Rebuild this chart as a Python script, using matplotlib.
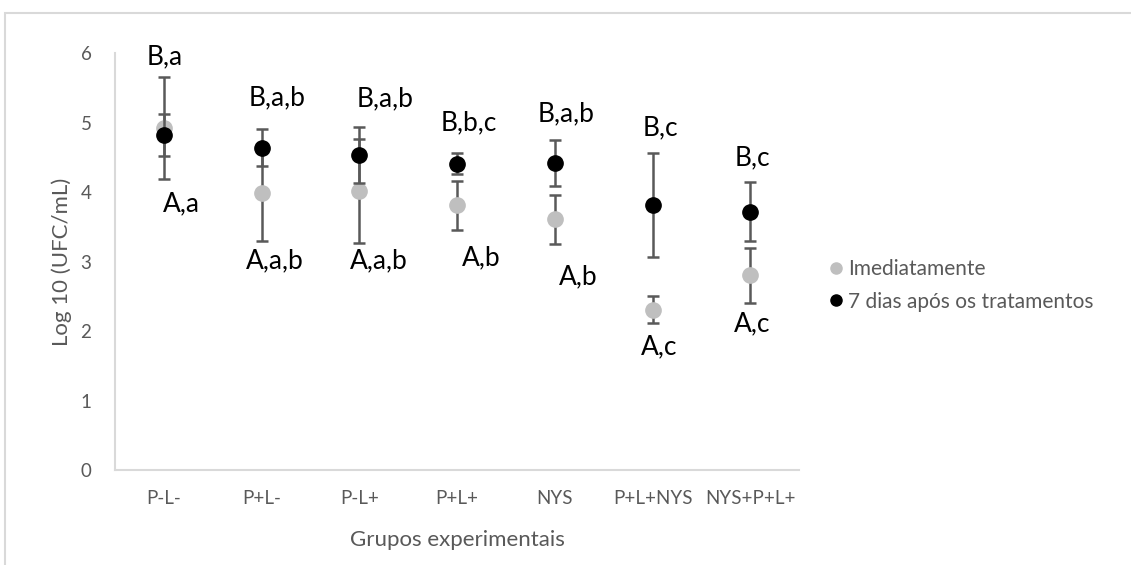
import matplotlib.pyplot as plt
from matplotlib.patches import Rectangle
from matplotlib.lines import Line2D
import numpy as np

plt.rcParams['font.family'] = ['Lato', 'DejaVu Sans']

# Data
groups = ['P-L-', 'P+L-', 'P-L+', 'P+L+', 'NYS', 'P+L+NYS', 'NYS+P+L+']
imediato = [4.92, 3.98, 4.02, 3.81, 3.61, 2.31, 2.80]
imediato_err = [0.73, 0.68, 0.75, 0.35, 0.35, 0.19, 0.39]
dias7 = [4.82, 4.64, 4.53, 4.41, 4.42, 3.81, 3.72]
dias7_err = [0.30, 0.27, 0.40, 0.15, 0.33, 0.75, 0.43]

labels_top = ['B,a', 'B,a,b', 'B,a,b', 'B,b,c', 'B,a,b', 'B,c', 'B,c']
labels_bot = ['A,a', 'A,a,b', 'A,a,b', 'A,b', 'A,b', 'A,c', 'A,c']

# label placement (data units)
top_y = [5.94, 5.36, 5.34, 5.00, 5.13, 4.92, 4.50]
top_dx = [0.01, 0.16, 0.26, 0.12, 0.11, 0.08, 0.02]
bot_y = [3.83, 3.01, 3.01, 3.06, 2.78, 1.77, 2.11]
bot_dx = [0.18, 0.13, 0.20, 0.25, 0.24, 0.07, 0.02]

gray = '#bfbfbf'
err_col = '#595959'
txt_col = '#595959'

fig = plt.figure(figsize=(11.31, 5.65), dpi=100)
ax = fig.add_axes([0.1017, 0.168, 0.605, 0.738])

x = np.arange(len(groups))
ax.errorbar(x, imediato, yerr=imediato_err, fmt='o', color=gray, ms=11,
            ecolor=err_col, elinewidth=1.8, capsize=4.5, capthick=1.8, zorder=2)
ax.errorbar(x, dias7, yerr=dias7_err, fmt='o', color='black', ms=11,
            ecolor=err_col, elinewidth=1.8, capsize=4.5, capthick=1.8, zorder=3)

for i in range(len(groups)):
    ax.text(x[i] + top_dx[i], top_y[i], labels_top[i], ha='center',
            va='center', fontsize=19, color='black')
    ax.text(x[i] + bot_dx[i], bot_y[i], labels_bot[i], ha='center',
            va='center', fontsize=19, color='black')

ax.set_xlim(-0.5, len(groups) - 0.5)
ax.set_ylim(0, 6)
ax.set_yticks(range(0, 7))
ax.set_xticks(x)
ax.set_xticklabels(groups)
ax.tick_params(axis='both', length=0, labelsize=13.5, colors=txt_col)
ax.tick_params(axis='x', pad=14)
ax.tick_params(axis='y', pad=17)
for s in ['top', 'right']:
    ax.spines[s].set_visible(False)
for s in ['left', 'bottom']:
    ax.spines[s].set_color('#d9d9d9')
    ax.spines[s].set_linewidth(1.5)

ax.set_ylabel('Log 10 (UFC/mL)', fontsize=16, color=txt_col, labelpad=6)
ax.set_xlabel('Grupos experimentais', fontsize=16, color=txt_col, labelpad=17)

handles = [
    Line2D([], [], ls='none', marker='o', color=gray, ms=8),
    Line2D([], [], ls='none', marker='o', color='black', ms=8),
]
fig.legend(handles, ['Imediatamente', '7 dias após os tratamentos'],
           loc='center left', bbox_to_anchor=(0.713, 0.495), frameon=False,
           fontsize=15, handletextpad=0.1, labelspacing=0.6,
           labelcolor=txt_col, handlelength=1.0)

# outer chart border
fig.patches.append(Rectangle((5 / 1131, -0.1), 1.2, 1 - 13 / 565 + 0.1,
                             transform=fig.transFigure, fill=False,
                             edgecolor='#d9d9d9', linewidth=1.5))

plt.savefig('out.png', dpi=100)
